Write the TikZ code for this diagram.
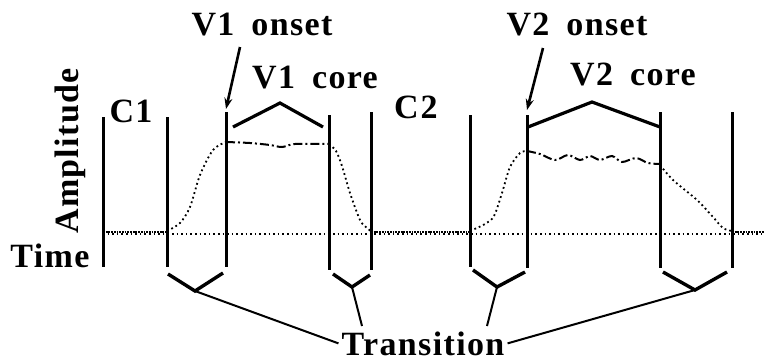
\documentclass[tikz,border=0pt]{standalone}
\usepackage{fontspec}
\setmainfont[LetterSpace=4]{Liberation Serif}
\usetikzlibrary{arrows.meta}

\begin{document}
\begin{tikzpicture}[x=1bp,y=-1bp,
    lbl/.style={font=\fontsize{34bp}{36bp}\selectfont\bfseries,inner sep=0pt,anchor=base},
    boundary/.style={line width=3bp},
    armline/.style={line width=3.4bp},
    stemline/.style={line width=2bp},
    corebracket/.style={line width=3.2bp,line join=miter},
    onsetarrow/.style={line width=2.6bp,-{Stealth[length=11bp,width=8bp]}},
    timeaxis/.style={line width=1.6bp,dash pattern=on 1.6bp off 3bp},
    ampdense/.style={line width=2.8bp,dash pattern=on 1.8bp off 0.9bp},
    ampdot/.style={line width=1.8bp,dash pattern=on 1.8bp off 3bp},
    ampdash/.style={line width=2bp,dash pattern=on 9bp off 3bp on 2bp off 3bp}]

  \useasboundingbox (0,0) rectangle (764,362);

  % segment boundaries
  \foreach \name/\x/\top/\bot in {b1/103/117/267, b2/167/117/267, b3/226/112/267,
      b4/329/115/270, b5/371/112/270, b6/470/115/267, b7/527/115/268,
      b8/660/112/268, b9/732/112/268} {
    \coordinate (\name-t) at (\x,\top);
    \coordinate (\name-b) at (\x,\bot);
    \draw[boundary] (\name-t) -- (\name-b);
  }

  % time axis and amplitude contour
  \draw[timeaxis] (103,234) -- (764,234);
  \draw[ampdense] (103,232) -- (167,232);
  \draw[ampdense] (371,232) -- (470,232);
  \draw[ampdense] (732,232) -- (764,232);
  \draw[ampdot] plot[smooth] coordinates {(167,231) (180,223) (190,207) (200,175) (213,150) (226,142)};
  \draw[ampdash] plot[smooth] coordinates {(226,142) (250,143) (270,145) (282,147) (295,144) (329,144)};
  \draw[ampdot] plot[smooth] coordinates {(329,144) (336,151) (342,166) (350,193) (360,220) (367,228) (372,232)};
  \draw[ampdot] plot[smooth] coordinates {(470,231) (485,224) (494,216) (502,193) (510,167) (520,153) (527,151)};
  \draw[ampdash] plot[smooth] coordinates {(527,151) (540,154) (555,160) (568,155) (580,160)
      (590,156) (600,160) (612,156) (622,162) (636,158) (648,163) (660,164)};
  \draw[ampdot] plot[smooth] coordinates {(660,165) (673,180) (697,200) (713,217) (723,228) (732,231)};

  % labels
  \node[lbl] (c1) at (131,122) {C1};
  \node[lbl] (c2) at (416,118) {C\kern2bp 2};
  \node[lbl] (v1on) at (262,35) {V1\hspace{0.5em}onset};
  \node[lbl] (v1core) at (315,88) {V1\hspace{0.5em}core};
  \node[lbl] (v2on) at (577,35) {V2\hspace{0.5em}onset};
  \node[lbl] (v2core) at (633,85) {V2\hspace{0.5em}core};
  \node[lbl] (time) at (50,267) {Time};
  \node[lbl,rotate=90,anchor=center] (amp) at (70,151) {Amplitude};
  \node[lbl] (trans) at (423,355) {Transition};

  % onset arrows
  \coordinate (v1tail) at (240,47);
  \coordinate (v2tail) at (543,48);
  \draw[onsetarrow] (v1tail) -- ([yshift=3bp]b3-t);
  \draw[onsetarrow] (v2tail) -- ([yshift=5bp]b7-t);

  % core brackets
  \coordinate (v1peak) at (280,103);
  \coordinate (v2peak) at (592,102);
  \draw[corebracket] ([shift={(7bp,-15bp)}]b3-t) -- (v1peak) -- ([shift={(-6bp,-12bp)}]b4-t);
  \draw[corebracket] ([shift={(1bp,-12bp)}]b7-t) -- (v2peak) -- ([shift={(0bp,-15bp)}]b8-t);

  % transition brackets
  \coordinate (tr1) at (195,291);
  \coordinate (tr2) at (352,287);
  \coordinate (tr3) at (497,287);
  \coordinate (tr4) at (695,290);
  \coordinate (st2) at (362,326);
  \coordinate (st3) at (487,326);
  \draw[armline] ([shift={(1bp,-7bp)}]b2-b) -- (tr1) -- ([shift={(-3bp,-6bp)}]b3-b);
  \draw[armline] ([shift={(4bp,-4bp)}]b4-b) -- (tr2) -- ([shift={(-1bp,-5bp)}]b5-b);
  \draw[armline] ([shift={(3bp,-3bp)}]b6-b) -- (tr3) -- ([shift={(-2bp,-4bp)}]b7-b);
  \draw[armline] ([shift={(3bp,-4bp)}]b8-b) -- (tr4) -- ([shift={(-5bp,-4bp)}]b9-b);
  \draw[stemline] (tr1) -- ([xshift=-3bp]trans.west);
  \draw[stemline] (tr2) -- (st2);
  \draw[stemline] (tr3) -- (st3);
  \draw[stemline] (tr4) -- ([xshift=3bp]trans.east);
\end{tikzpicture}
\end{document}
